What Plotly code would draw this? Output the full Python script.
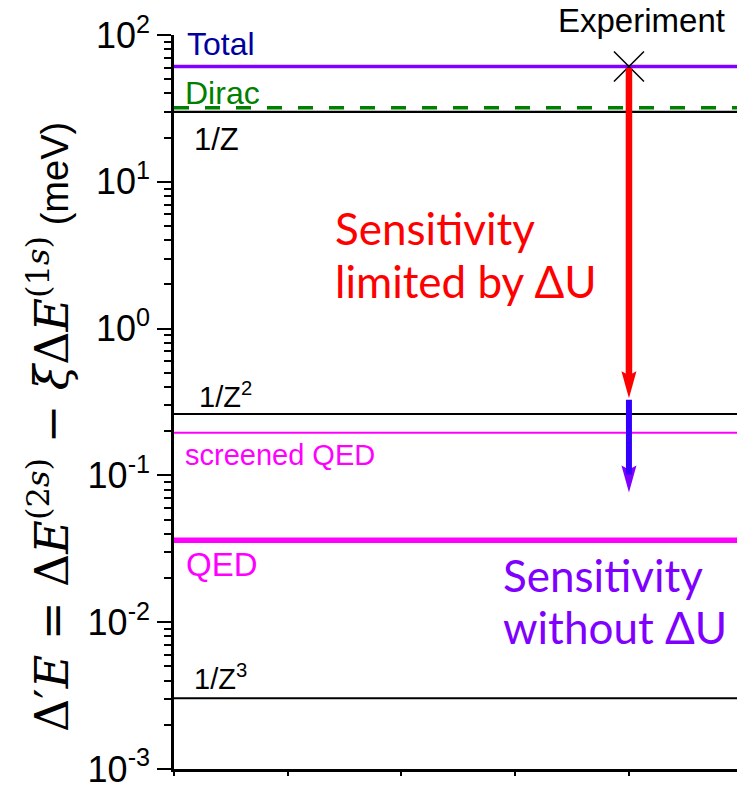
import numpy as np
import plotly.graph_objects as go

# Energy contributions (meV)
LEVEL_NAMES = ["Total", "Dirac", "1/Z", "1/Z<sup>2</sup>", "screened QED", "QED", "1/Z<sup>3</sup>"]
LEVEL_VALUES = [61.0, 32.0, 30.0, 0.262, 0.195, 0.0361, 0.00303]

EXPERIMENT_X = 4.0
EXPERIMENT_VALUE = 61.0          # measured value
LIMIT_WITH_DU = 0.336            # sensitivity limited by ΔU
LIMIT_WITHOUT_DU = 0.0764        # sensitivity without ΔU

Y_TICK_VALUES = [1e-3, 1e-2, 1e-1, 1e0, 1e1, 1e2]
Y_TICK_TEXT = ["10<sup>-3</sup>", "10<sup>-2</sup>", "10<sup>-1</sup>",
               "10<sup>0</sup>", "10<sup>1</sup>", "10<sup>2</sup>"]
Y_MINOR_TICKS = [d * 10.0 ** e for e in range(-3, 2) for d in range(2, 10)]
X_RANGE = [0, 4.95]
Y_LOG_RANGE = [-3.0005, 2.0005]

SANS = "Liberation Sans, Arial, sans-serif"
CAL = "Lato, Open Sans, sans-serif"

# line styles per level
LEVEL_STYLE = {
    "Total": dict(color="#8000FF", width=3.5),
    "Dirac": dict(color="#008000", width=3.5, dash="15px,16px"),
    "1/Z": dict(color="black", width=2.2),
    "1/Z<sup>2</sup>": dict(color="black", width=1.8),
    "screened QED": dict(color="#FF00FF", width=2),
    "QED": dict(color="#FF00FF", width=5.5),
    "1/Z<sup>3</sup>": dict(color="black", width=1.8),
}
# label color, size, vertical offset (px), horizontal inset (px)
LABEL_STYLE = {
    "Total": ("#0000A0", 32, 23, 11),
    "Dirac": ("#008000", 32, 15, 9),
    "1/Z": ("black", 31, -28, 18),
    "1/Z<sup>2</sup>": ("black", 29, 19, 23),
    "screened QED": ("#FF00FF", 29, -22, 9),
    "QED": ("#FF00FF", 33, -24, 10),
    "1/Z<sup>3</sup>": ("black", 29, 21, 18),
}

fig = go.Figure()

for name, val in zip(LEVEL_NAMES, LEVEL_VALUES):
    fig.add_trace(go.Scatter(x=X_RANGE, y=[val, val], mode="lines",
                             line=LEVEL_STYLE[name], hoverinfo="skip", showlegend=False))

# experiment point
fig.add_trace(go.Scatter(x=[EXPERIMENT_X], y=[EXPERIMENT_VALUE], mode="markers",
                         marker=dict(symbol="x-thin", size=30, line=dict(color="black", width=1.5)),
                         showlegend=False, hoverinfo="skip"))

annotations = []
for name, val in zip(LEVEL_NAMES, LEVEL_VALUES):
    col, size, dy, dx = LABEL_STYLE[name]
    annotations.append(dict(x=X_RANGE[0], y=np.log10(val), xref="x", yref="y", text=name,
                            showarrow=False, xanchor="left", yanchor="middle",
                            xshift=dx, yshift=dy, font=dict(family=SANS, size=size, color=col)))

annotations.append(dict(x=EXPERIMENT_X, y=np.log10(EXPERIMENT_VALUE), xref="x", yref="y",
                        text="Experiment", showarrow=False, xanchor="center", yanchor="middle",
                        xshift=13, yshift=46, font=dict(family=SANS, size=33, color="black")))

# arrow shafts (heads drawn as shapes)
annotations.append(dict(x=EXPERIMENT_X, y=np.log10(LIMIT_WITHOUT_DU), ax=EXPERIMENT_X,
                        ay=np.log10(LIMIT_WITH_DU), xref="x", yref="y", axref="x", ayref="y",
                        text="", showarrow=True, arrowhead=0, arrowwidth=6,
                        arrowcolor="#3300FF", standoff=18))
annotations.append(dict(x=EXPERIMENT_X, y=np.log10(LIMIT_WITH_DU), ax=EXPERIMENT_X,
                        ay=np.log10(EXPERIMENT_VALUE), xref="x", yref="y", axref="x", ayref="y",
                        text="", showarrow=True, arrowhead=0, arrowwidth=6.5,
                        arrowcolor="#FF0000", standoff=18))

# explanatory text
for txt, py, col, px in [("Sensitivity", 229, "#FF0000", 333), ("limited by ΔU", 282, "#FF0000", 333),
                         ("Sensitivity", 578, "#8000FF", 501), ("without ΔU", 630, "#8000FF", 501)]:
    annotations.append(dict(x=(px - 174) / 563, y=(773 - py) / 738, xref="paper", yref="paper",
                            text=txt, showarrow=False, xanchor="left", yanchor="middle",
                            font=dict(family=CAL, size=44, color=col)))

# y-axis title
title = ("Δ′<i>E</i> = Δ<i>E</i><sup>(2<i>s</i>)</sup>"
         " − <i>ξ</i>Δ<i>E</i><sup>(1<i>s</i>)</sup>"
         "<span style='font-family:Liberation Sans;font-size:38px'> (meV)</span>")
annotations.append(dict(x=-0.222, y=0.466, xref="paper", yref="paper", text=title,
                        showarrow=False, textangle=-90, xanchor="center", yanchor="middle",
                        font=dict(family="DejaVu Serif", size=46, color="black")))

HEAD = "M0,0 L-7.5,27 L0,23 L7.5,27 Z"
shapes = [
    dict(type="path", xref="x", yref="y", xsizemode="pixel", ysizemode="pixel",
         xanchor=EXPERIMENT_X, yanchor=LIMIT_WITHOUT_DU, path=HEAD,
         fillcolor="#8000FF", line=dict(width=0), layer="above"),
    dict(type="path", xref="x", yref="y", xsizemode="pixel", ysizemode="pixel",
         xanchor=EXPERIMENT_X, yanchor=LIMIT_WITH_DU, path=HEAD,
         fillcolor="#FF0000", line=dict(width=0), layer="above"),
]

fig.update_layout(
    width=737, height=790,
    margin=dict(l=174, r=0, t=35, b=17),
    paper_bgcolor="white", plot_bgcolor="white",
    annotations=annotations, shapes=shapes,
    xaxis=dict(range=X_RANGE, showline=True, linecolor="black", linewidth=2.5,
               ticks="outside", ticklen=4, tickwidth=2, tickcolor="black",
               tick0=0, dtick=1, showticklabels=False, showgrid=False, zeroline=False),
    yaxis=dict(type="log", range=Y_LOG_RANGE, showline=True, linecolor="black", linewidth=2.5,
               ticks="outside", ticklen=14, tickwidth=2, tickcolor="black",
               tickmode="array", tickvals=Y_TICK_VALUES, ticktext=Y_TICK_TEXT,
               tickfont=dict(family=SANS, size=36, color="black"),
               ticklabeloverflow="allow",
               minor=dict(tickmode="array", tickvals=Y_MINOR_TICKS, ticks="outside",
                          ticklen=7, tickwidth=2, tickcolor="black"),
               showgrid=False, zeroline=False),
)

fig.write_html("out.html")
